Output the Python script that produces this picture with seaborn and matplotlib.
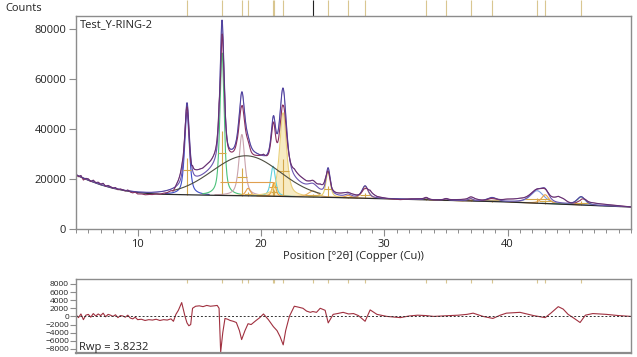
import numpy as np
import matplotlib
matplotlib.use("Agg")
import matplotlib.pyplot as plt
import matplotlib.transforms as mtransforms
from matplotlib.ticker import MultipleLocator, FixedLocator
import seaborn as sns

# ---- data ------------------------------------------------------------
# background (2theta, counts)
bg_pos = [5, 6, 7, 8, 9, 10, 11, 12, 14, 16, 18, 20, 22, 24, 26, 28, 30,
          32, 34, 36, 38, 40, 42, 44, 46, 48, 50]
bg_cts = [21600, 19500, 17700, 16300, 15300, 14600, 14150, 13900, 13700,
          13500, 13350, 13200, 13000, 12800, 12600, 12350, 12100, 11850,
          11600, 11350, 11100, 10800, 10400, 10000, 9600, 9200, 8800]

# amorphous hump
hump_pos = 18.8
hump_height = 16000
hump_fwhm = 6.5

# fitted peaks: position, height above background, fwhm, profile colour
peak_pos = [14.00, 16.84, 18.45, 18.95, 20.98, 21.05, 21.79, 24.22, 25.44,
            27.06, 28.44, 33.39, 35.00, 37.00, 38.74, 42.39, 43.04, 45.96]
peak_height = [33000, 57000, 24500, 3000, 12000, 5500, 33500, 2500, 10500,
               1000, 4800, 700, 500, 800, 1500, 5000, 3500, 3200]
peak_fwhm = [0.45, 0.40, 0.55, 0.45, 0.45, 0.35, 0.65, 0.90, 0.40,
             0.55, 0.60, 0.35, 0.35, 0.45, 0.90, 1.30, 0.70, 0.80]
peak_color = ["#3f4fc8", "#4cc27a", "#c9a3ad", "#e8a048", "#5fd0dc",
              "#f0a030", "#e9cf7a", "#e8b060", "#e6cf6c", "#e8a048",
              "#e8a048", "#e8a048", "#e8a048", "#e8a048", "#e8a048",
              "#7c9ee0", "#e8a048", "#5fc0a0"]

# difference curve (observed - calculated)
diff_x = [5.0, 5.2, 5.4, 5.6, 5.8, 6.0, 6.2, 6.4, 6.6, 6.8,
          7.0, 7.2, 7.4, 7.6, 7.8, 8.0, 8.2, 8.4, 8.6, 8.8,
          9.0, 9.2, 9.4, 9.6, 9.8, 10.0, 10.3, 10.6, 10.9, 11.2,
          11.5, 11.8, 12.1, 12.4, 12.7, 12.9, 13.1, 13.3, 13.57, 13.84,
          14.0, 14.15, 14.3, 14.45, 14.7, 15.0, 15.3, 15.6, 15.9, 16.2,
          16.45, 16.6, 16.73, 16.9, 17.08, 17.3, 17.5, 17.75, 18.0, 18.25,
          18.43, 18.7, 18.95, 19.2, 19.6, 19.9, 20.2, 20.6, 21.0, 21.3,
          21.55, 21.8, 22.0, 22.3, 22.7, 23.0, 23.4, 23.7, 24.0, 24.2,
          24.5, 24.8, 25.2, 25.45, 25.85, 26.2, 26.66, 27.1, 27.5, 27.9,
          28.17, 28.44, 28.85, 29.4, 30.2, 31.3, 32.0, 32.7, 33.4, 34.0,
          35.3, 36.0, 36.7, 37.2, 38.0, 38.8, 39.4, 39.9, 41.0, 42.1,
          43.04, 43.5, 44.1, 44.5, 44.9, 45.4, 45.87, 46.3, 46.9, 48.0,
          49.0, 50.0]
diff_val = [400, -300, 600, -800, 300, 500, -200, 700, 100, 600,
            200, 800, -100, 500, 300, 0, 400, -300, 200, 100,
            -200, 300, -400, -600, -200, -800, -700, -1000, -800, -900,
            -700, -1000, -800, -900, -600, -1200, 500, 1500, 3400, 0,
            -1600, -2300, -2000, 2000, 2500, 2600, 2400, 2700, 2500, 2600,
            2700, 2000, -8800, -4000, -500, -700, -1000, -1200, -1500, -3500,
            -5700, -3500, -1800, -2000, -1000, -300, 600, -800, -2500, -3500,
            -5000, -7000, -3500, 0, 2500, 2300, 2000, 1300, 1000, 1200,
            1000, 2000, 1500, -1600, 500, 700, 1000, 600, 700, 200,
            -500, -1200, 1600, 500, 0, -300, 100, 300, 200, 0,
            200, 300, 500, 800, 0, -500, 300, 800, 1000, 200,
            -300, 800, 2400, 1800, 500, -500, -1500, 300, 700, 500,
            200, 0]

x_ticks = [10, 20, 30, 40]
title_text = "Test_Y-RING-2"
rwp_text = "Rwp = 3.8232"

# ---- build curves ----------------------------------------------------
tt = np.arange(5.0, 50.0001, 0.02)


def pv(x, pos, h, w, eta=0.6):
    d = (x - pos) / (w / 2)
    return h * (eta / (1 + d ** 2) + (1 - eta) * np.exp(-np.log(2) * d ** 2))


bg = np.interp(tt, bg_pos, bg_cts)
hump = hump_height * np.exp(-4 * np.log(2) * ((tt - hump_pos) / hump_fwhm) ** 2)
peaks = [pv(tt, p, h, w) for p, h, w in zip(peak_pos, peak_height, peak_fwhm)]
calc = bg + hump + np.sum(peaks, axis=0)
obs = calc + np.interp(tt, diff_x, diff_val)

# ---- figure ----------------------------------------------------------
sns.set_theme(style="white")
plt.rcParams["font.family"] = ["Open Sans", "DejaVu Sans"]

fig = plt.figure(figsize=(6.37, 3.57), dpi=100)
ax = fig.add_axes([0.1193, 0.3585, 0.8713, 0.5967])
ax2 = fig.add_axes([0.1193, 0.0112, 0.8713, 0.2073])

spine_col = "#8c8c8c"

# individual profiles
for p, h, w, c, prof in zip(peak_pos, peak_height, peak_fwhm, peak_color, peaks):
    m = np.abs(tt - p) < max(4 * w, 0.8)
    y = bg[m] + prof[m]
    if p == 21.79:
        ax.fill_between(tt[m], bg[m], y, color="#f6e6b4", alpha=0.8, lw=0)
    sns.lineplot(x=tt[m], y=y, ax=ax, color=c, lw=0.8, errorbar=None)
    # peak stick and width bar
    b = np.interp(p, bg_pos, bg_cts)
    ax.vlines(p, b, b + 0.45 * h, color="#d4a84a", lw=0.8)
    ax.hlines(b + 0.3 * h, p - 0.75 * w, p + 0.75 * w, color="#d4a84a", lw=0.8)

# amorphous hump
mh = np.abs(tt - hump_pos) < 6
sns.lineplot(x=tt[mh], y=bg[mh] + hump[mh], ax=ax, color="#4d4d40", lw=0.8,
             errorbar=None)
bh = np.interp(hump_pos, bg_pos, bg_cts)
ax.hlines(bh + 0.35 * hump_height, hump_pos - 0.33 * hump_fwhm,
          hump_pos + 0.33 * hump_fwhm, color="#e0a050", lw=0.8)

sns.lineplot(x=bg_pos, y=bg_cts, ax=ax, color="#2b2b2b", lw=0.9, errorbar=None)
sns.lineplot(x=tt, y=calc, ax=ax, color="#6a55b0", lw=0.8, errorbar=None)
sns.lineplot(x=tt, y=obs, ax=ax, color="#8a3060", lw=0.8, errorbar=None)
sns.lineplot(x=tt, y=np.maximum(calc, obs), ax=ax, color="#3b3590", lw=0.6,
             errorbar=None, alpha=0.6)

ax.set_xlim(5, 50)
ax.set_ylim(0, 85200)
ax.xaxis.set_major_locator(FixedLocator(x_ticks))
ax.xaxis.set_minor_locator(MultipleLocator(1))
ax.yaxis.set_major_locator(MultipleLocator(20000))
ax.tick_params(axis="both", which="both", direction="out", bottom=True,
               left=True, color=spine_col, labelsize=8, labelcolor="#222222",
               pad=2)
ax.tick_params(which="major", length=5, width=0.8)
ax.tick_params(which="minor", length=3, width=0.7)
ax.set_xlabel("Position [°2θ] (Copper (Cu))", fontsize=8, color="#222222",
              labelpad=1)
ax.set_ylabel("")
ax.text(0.007, 0.958, title_text, transform=ax.transAxes, fontsize=8,
        ha="left", va="center", color="#222222")
fig.text(0.008, 0.975, "Counts", fontsize=8, ha="left", va="center",
         color="#222222")

# peak position markers above the plot
trans = mtransforms.blended_transform_factory(ax.transData, ax.transAxes)
mark_col = ["#222222" if p == 24.22 else "#d9c690" for p in peak_pos]
ax.vlines(peak_pos, 1.0, 1.075, transform=trans, colors=mark_col, lw=0.8,
          clip_on=False)

# difference plot
sns.lineplot(x=diff_x, y=diff_val, ax=ax2, color="#a0303f", lw=0.8,
             errorbar=None)
ax2.axhline(0, color="#333333", lw=0.7, ls=(0, (2, 2)))
trans2 = mtransforms.blended_transform_factory(ax2.transData, ax2.transAxes)
ax2.vlines(peak_pos, 0.95, 1.0, transform=trans2, colors="#d9c690", lw=0.8)
ax2.set_xlim(5, 50)
ax2.set_ylim(-9000, 9200)
ax2.set_yticks(list(range(-8000, 8001, 2000)))
ax2.set_xticks([])
ax2.tick_params(axis="y", direction="out", left=True, length=4, width=0.8,
                color=spine_col, labelsize=6, labelcolor="#222222", pad=1)
ax2.text(0.005, 0.08, rwp_text, transform=ax2.transAxes, fontsize=8,
         ha="left", va="center", color="#222222")

for a in (ax, ax2):
    for s in a.spines.values():
        s.set_color(spine_col)
        s.set_linewidth(1.0)
ax2.spines["bottom"].set_linewidth(1.6)

fig.savefig("out.png", dpi=100)
